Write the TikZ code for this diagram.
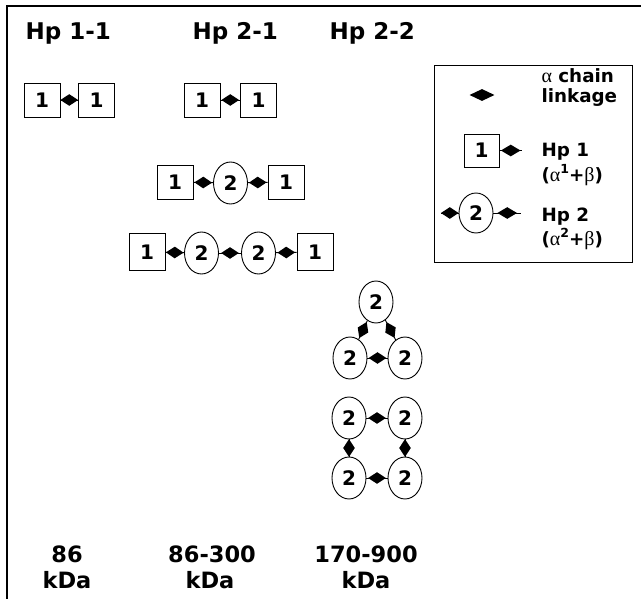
\documentclass[tikz,border=0pt]{standalone}
\usepackage{fontspec}
\setmainfont{DejaVu Sans}
\newfontfamily\grk{Liberation Serif}
\usetikzlibrary{shapes.geometric}
\begin{document}
\begin{tikzpicture}[x=1pt,y=-1pt,
  box/.style={draw, line width=0.9pt, minimum width=36pt, minimum height=34pt, inner sep=0pt, font=\fontsize{20}{20}\selectfont\bfseries},
  ell/.style={draw, ellipse, line width=0.9pt, minimum width=34pt, minimum height=42pt, inner sep=0pt, font=\fontsize{20}{20}\selectfont\bfseries},
  lk/.style={diamond, fill=black, inner sep=0pt, minimum width=#1, minimum height=12pt, sloped},
  lk/.default=18pt,
  conn/.style={line width=0.9pt},
  hdr/.style={anchor=base west, font=\fontsize{23}{23}\selectfont\bfseries},
  lgt/.style={anchor=base west, font=\fontsize{18.3}{18.3}\selectfont\bfseries},
  mass/.style={anchor=base, font=\fontsize{22.5}{22.5}\selectfont\bfseries}]
\useasboundingbox (0,0) rectangle (641,599);
% frame
\draw[line width=1.6pt] (7,599) -- (7,6) -- (641,6);
% headers
\node[hdr] (h1) at (22,40) {Hp 1-1};
\node[hdr] (h2) at (189,40) {Hp 2-1};
\node[hdr] (h3) at (326,40) {Hp 2-2};
% Hp 1-1
\node[box] (A1) at (42,100) {1};
\node[box] (A2) at (96.5,100) {1};
\draw[conn] (A1) -- node[lk]{} (A2);
% Hp 2-1 row 1
\node[box] (B1) at (202,100) {1};
\node[box] (B2) at (258.5,100) {1};
\draw[conn] (B1) -- node[lk]{} (B2);
% row 2
\node[box] (C1) at (175,182) {1};
\node[ell] (C2) at (230.5,183) {2};
\node[box] (C3) at (286,182) {1};
\draw[conn] (C1) -- node[lk]{} (C2);
\draw[conn] (C2) -- node[lk]{} (C3);
% row 3
\node[box, minimum height=37pt] (D1) at (147,252) {1};
\node[ell] (D2) at (201.5,253) {2};
\node[ell] (D3) at (258.5,253) {2};
\node[box, minimum height=37pt] (D4) at (315,252) {1};
\draw[conn] (D1) -- node[lk]{} (D2);
\draw[conn] (D2) -- node[lk]{} (D3);
\draw[conn] (D3) -- node[lk]{} (D4);
% triangle
\node[ell] (T1) at (376,302) {2};
\node[ell] (T2) at (350,358) {2};
\node[ell] (T3) at (405,358) {2};
\draw[conn] (T1) -- node[lk]{} (T2);
\draw[conn] (T1) -- node[lk]{} (T3);
\draw[conn] (T2) -- node[lk]{} (T3);
% square
\node[ell] (S1) at (349,418) {2};
\node[ell] (S2) at (405,418) {2};
\node[ell] (S3) at (349,478) {2};
\node[ell] (S4) at (405,478) {2};
\draw[conn] (S1) -- node[lk]{} (S2);
\draw[conn] (S3) -- node[lk]{} (S4);
\draw[conn] (S1) -- node[lk]{} (S3);
\draw[conn] (S2) -- node[lk]{} (S4);
% legend
\node[draw, line width=1.2pt, minimum width=198pt, minimum height=197pt, anchor=north west] (leg) at (434,65) {};
\node[diamond, fill=black, inner sep=0pt, minimum width=25pt, minimum height=12pt] (L0) at (482,95) {};
\node[lgt] (t0a) at (538,83) {{\mdseries\grk\fontsize{20}{20}\selectfont α} chain};
\node[lgt] (t0b) at (538,103) {linkage};
\node[box, minimum height=33pt, minimum width=35pt] (L1) at (481.5,150.5) {1};
\coordinate (L1r) at (522,150.5);
\draw[conn] (L1) -- node[lk=20pt]{} (L1r);
\node[lgt] (t1a) at (538,157) {Hp 1};
\node[lgt] (t1b) at (538,182) {({\mdseries\grk\fontsize{20}{20}\selectfont α}\raisebox{0.45em}{\fontsize{12.5}{12.5}\selectfont 1}+{\mdseries\grk\fontsize{20}{20}\selectfont β})};
\node[ell, minimum height=40pt] (L2) at (476,213) {2};
\coordinate (L2l) at (441,213);
\coordinate (L2r) at (521,213);
\draw[conn] (L2l) -- node[lk]{} (L2);
\draw[conn] (L2) -- node[lk=20pt]{} (L2r);
\node[lgt] (t2a) at (538,222) {Hp 2};
\node[lgt] (t2b) at (538,246) {({\mdseries\grk\fontsize{20}{20}\selectfont α}\raisebox{0.45em}{\fontsize{12.5}{12.5}\selectfont 2}+{\mdseries\grk\fontsize{20}{20}\selectfont β})};
% masses
\node[mass] (m1) at (67,562) {86};
\node[mass] (m1k) at (67,588) {kDa};
\node[mass] (m2) at (212,562) {86-300};
\node[mass] (m2k) at (210,588) {kDa};
\node[mass] (m3) at (366,562) {170-900};
\node[mass] (m3k) at (366,588) {kDa};
\end{tikzpicture}
\end{document}
